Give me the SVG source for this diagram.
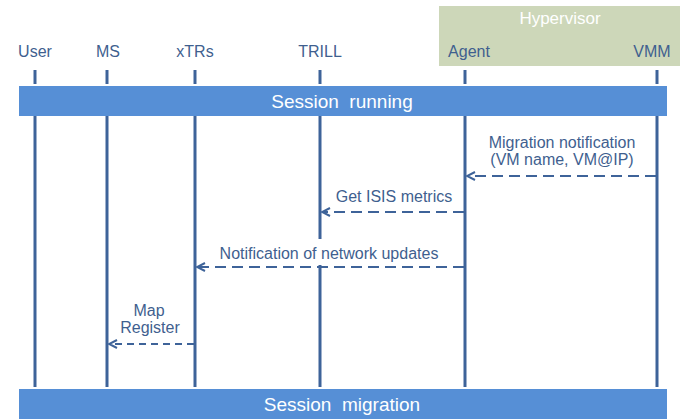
<svg xmlns="http://www.w3.org/2000/svg" width="680" height="419" viewBox="0 0 680 419">
  <style>
    .lbl { font-family: "Liberation Sans", Arial, sans-serif; font-size: 16px; fill: #3f5f8f; text-anchor: middle; }
    .hdr { font-family: "Liberation Sans", Arial, sans-serif; font-size: 16px; fill: #3f5f8f; text-anchor: middle; }
    .bar { fill: #568fd6; }
    .bartxt { font-family: "Liberation Sans", Arial, sans-serif; font-size: 19px; fill: #ffffff; text-anchor: middle; }
    .life { stroke: #3e6399; stroke-width: 3; fill: none; }
    .msg { stroke: #3e6399; stroke-width: 2; fill: none; stroke-dasharray: 11 6; }
    .msg2 { stroke: #3e6399; stroke-width: 2; fill: none; stroke-dasharray: 7 5; }
  </style>
  <defs>
    <marker id="open" viewBox="0 0 10 10" refX="9" refY="5" markerWidth="10" markerHeight="10" markerUnits="userSpaceOnUse" orient="auto">
      <path d="M1,1 L9,5 L1,9" fill="none" stroke="#3e6399" stroke-width="2"/>
    </marker>
  </defs>

  <rect width="680" height="419" fill="#ffffff"/>

  <!-- hypervisor grouping -->
  <g id="hypervisor">
    <rect x="439" y="6" width="241" height="60" fill="#cdd7b9"/>
    <text x="560" y="24" class="hdr" style="fill:#ffffff;font-size:17px">Hypervisor</text>
  </g>

  <!-- participants -->
  <g id="p-user"><text x="35" y="57" class="hdr">User</text><line x1="35" y1="70" x2="35" y2="84" class="life"/></g>
  <g id="p-mapserver"><text x="96" y="57" class="hdr" style="fill:#3f5f8f;text-anchor:start">M<tspan style="fill:#3f5f8f">S</tspan></text><line x1="107" y1="70" x2="107" y2="84" class="life"/></g>
  <g id="p-xtrs"><text x="195" y="57" class="hdr">xTRs</text><line x1="195" y1="70" x2="195" y2="84" class="life"/></g>
  <g id="p-trill"><text x="320" y="57" class="hdr">TRILL</text><line x1="320" y1="70" x2="320" y2="84" class="life"/></g>
  <g id="p-agent"><text x="469" y="57" class="hdr">Agent</text><line x1="465" y1="70" x2="465" y2="84" class="life"/></g>
  <g id="p-vmm"><text x="652" y="57" class="hdr">VMM</text><line x1="657" y1="70" x2="657" y2="84" class="life"/></g>

  <!-- lifelines -->
  <g id="lifelines">
    <line x1="35" y1="116" x2="35" y2="387" class="life"/>
    <line x1="107" y1="116" x2="107" y2="387" class="life"/>
    <line x1="195" y1="116" x2="195" y2="387" class="life"/>
    <line x1="320" y1="116" x2="320" y2="387" class="life"/>
    <line x1="465" y1="116" x2="465" y2="387" class="life"/>
    <line x1="657" y1="116" x2="657" y2="387" class="life"/>
  </g>

  <!-- session bars -->
  <g id="session-running">
    <rect x="19" y="86" width="648" height="30" class="bar"/>
    <text x="342" y="108" class="bartxt" xml:space="preserve">Session  running</text>
  </g>
  <g id="session-migration">
    <rect x="19" y="389" width="648" height="30" class="bar"/>
    <text x="342" y="411" class="bartxt" xml:space="preserve">Session  migration</text>
  </g>

  <!-- label backing that interrupts the TRILL lifeline -->
  <rect x="218" y="239" width="222" height="26" fill="#ffffff"/>

  <!-- messages -->
  <g id="connectors">
    <line x1="656" y1="176" x2="467" y2="176" class="msg" marker-end="url(#open)"/>
    <line x1="464" y1="212" x2="322" y2="212" class="msg" marker-end="url(#open)"/>
    <line x1="464" y1="267" x2="197" y2="267" class="msg" marker-end="url(#open)"/>
    <line x1="194" y1="344" x2="109" y2="344" class="msg2" marker-end="url(#open)"/>
  </g>

  <g id="labels">
    <text x="562" y="148" class="lbl">Migration notification</text>
    <text x="562" y="165" class="lbl">(VM name, VM@IP)</text>
    <text x="394" y="202" class="lbl">Get ISIS metrics</text>
    <text x="329" y="259" class="lbl">Notification of network updates</text>
    <text x="149" y="316" class="lbl">Map</text>
    <text x="150" y="333" class="lbl">Register</text>
  </g>
</svg>
